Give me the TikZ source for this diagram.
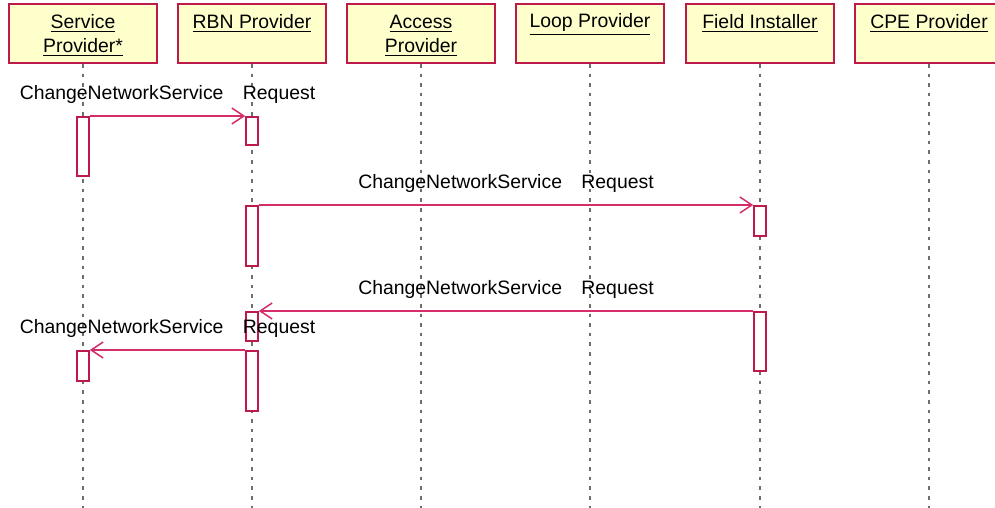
\documentclass[tikz,border=0pt]{standalone}
\usepackage{fontspec}
\setmainfont{Liberation Sans}
\usepackage{xcolor}
\usepackage{tikz}
\usetikzlibrary{arrows.meta}
\definecolor{seqyellow}{RGB}{255,255,204}
\definecolor{seqborder}{RGB}{190,25,75}
\definecolor{seqmsg}{RGB}{212,45,105}
\definecolor{seqgray}{RGB}{110,110,110}
\newcommand{\objlabel}[2]{\rule{0pt}{11pt}\underline{#1}\\\strut\underline{#2}}
\tikzset{
  objbox/.style={
    rectangle,
    draw=seqborder,
    fill=seqyellow,
    line width=1pt,
    align=center,
    minimum width=74pt,
    minimum height=29.5pt,
    inner sep=0pt,
    font=\fontsize{9.7}{12}\selectfont
  },
  actbox/.style={
    rectangle,
    draw=seqborder,
    fill=white,
    line width=0.8pt,
    anchor=north,
    minimum width=6pt,
    inner sep=0pt
  },
  lifeline/.style={
    draw=seqgray,
    line width=0.8pt,
    dash pattern=on 1.8pt off 3pt
  },
  msgarrow/.style={
    -{Straight Barb[length=6pt,width=8pt]},
    line width=0.75pt,
    draw=seqmsg
  },
  msglabel/.style={
    midway,
    anchor=base,
    yshift=8.5pt,
    inner sep=0pt,
    font=\fontsize{9.7}{12}\selectfont
  }
}

\begin{document}
\begin{tikzpicture}[x=0.5pt,y=-0.5pt]
\useasboundingbox (0,0) rectangle (995,508);

% objects
\node[objbox] (sp) at (83,33.5) {\objlabel{Service}{Provider*}};
\node[objbox] (rbn) at (252,33.5) {\objlabel{RBN Provider}{}};
\node[objbox] (access) at (421,33.5) {\objlabel{Access}{Provider}};
\node[objbox] (loop) at (590,33.5) {\objlabel{Loop Provider}{}};
\node[objbox] (field) at (760,33.5) {\objlabel{Field Installer}{}};
\node[objbox] (cpe) at (929,33.5) {\objlabel{CPE Provider}{}};

\coordinate (spEnd) at (83,508);
\coordinate (rbnEnd) at (252,508);
\coordinate (accessEnd) at (421,508);
\coordinate (loopEnd) at (590,508);
\coordinate (fieldEnd) at (760,508);
\coordinate (cpeEnd) at (929,508);

% lifelines
\draw[lifeline] (sp.south) -- (spEnd);
\draw[lifeline] (rbn.south) -- (rbnEnd);
\draw[lifeline] (access.south) -- (accessEnd);
\draw[lifeline] (loop.south) -- (loopEnd);
\draw[lifeline] (field.south) -- (fieldEnd);
\draw[lifeline] (cpe.south) -- (cpeEnd);

% activations
\node[actbox, minimum height=29.5pt] (spAct1) at (83,116) {};
\node[actbox, minimum height=14pt] (rbnAct1) at (252,116) {};
\node[actbox, minimum height=30pt] (rbnAct2) at (252,205) {};
\node[actbox, minimum height=15pt] (fieldAct1) at (760,205) {};
\node[actbox, minimum height=29.5pt] (fieldAct2) at (760,311) {};
\node[actbox, minimum height=14.5pt] (rbnAct3) at (252,311) {};
\node[actbox, minimum height=15pt] (spAct2) at (83,350) {};
\node[actbox, minimum height=30pt] (rbnAct4) at (252,350) {};

% messages
\draw[msgarrow] (spAct1.north east) -- node[msglabel] {ChangeNetworkService\quad Request} (rbnAct1.north west);
\draw[msgarrow] (rbnAct2.north east) -- node[msglabel] {ChangeNetworkService\quad Request} (fieldAct1.north west);
\draw[msgarrow] (fieldAct2.north west) -- node[msglabel] {ChangeNetworkService\quad Request} (rbnAct3.north east);
\draw[msgarrow] (rbnAct4.north west) -- node[msglabel] {ChangeNetworkService\quad Request} (spAct2.north east);
\end{tikzpicture}
\end{document}
